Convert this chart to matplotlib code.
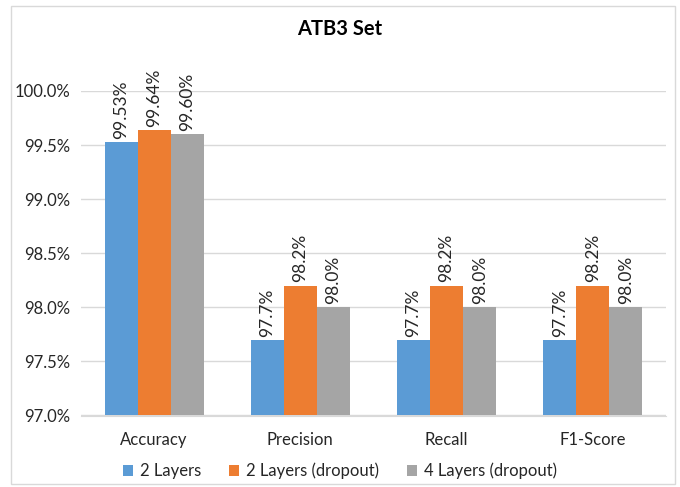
import numpy as np
import matplotlib.pyplot as plt
from matplotlib.patches import Rectangle
from matplotlib.ticker import FuncFormatter

plt.rcParams['font.family'] = ['Lato', 'DejaVu Sans']

# data
metrics = ['Accuracy', 'Precision', 'Recall', 'F1-Score']
series_names = ['2 Layers', '2 Layers (dropout)', '4 Layers (dropout)']
two_layers = [99.53, 97.7, 97.7, 97.7]
two_layers_dropout = [99.64, 98.2, 98.2, 98.2]
four_layers_dropout = [99.60, 98.0, 98.0, 98.0]
two_layers_lbl = ['99.53%', '97.7%', '97.7%', '97.7%']
two_layers_dropout_lbl = ['99.64%', '98.2%', '98.2%', '98.2%']
four_layers_dropout_lbl = ['99.60%', '98.0%', '98.0%', '98.0%']

colors = ['#5B9BD5', '#ED7D31', '#A5A5A5']
text_col = '#262626'

fig = plt.figure(figsize=(6.8, 4.87), dpi=100)
ax = fig.add_axes([81 / 680, 1 - 415.5 / 487, (666 - 81) / 680, (415.5 - 91) / 487])

# outer chart border
fig.patches.append(Rectangle((11 / 680, 3 / 487), 664 / 680, 478 / 487, transform=fig.transFigure,
                             fill=False, edgecolor='#D9D9D9', linewidth=1))

x = np.arange(len(metrics))
w = 0.226
all_vals = [two_layers, two_layers_dropout, four_layers_dropout]
all_lbls = [two_layers_lbl, two_layers_dropout_lbl, four_layers_dropout_lbl]
for k in range(3):
    pos = x + (k - 1) * w
    ax.bar(pos, np.array(all_vals[k]) - 97.0, width=w, bottom=97.0, color=colors[k],
           label=series_names[k], zorder=3)
    for p, v, s in zip(pos, all_vals[k], all_lbls[k]):
        ax.text(p, v + 0.03, s, rotation=90, ha='center', va='bottom', fontsize=12.5,
                color=text_col, clip_on=False)

ax.set_xlim(-0.5, 3.5)
ax.set_ylim(97.0, 100.0)
ax.set_yticks(np.arange(97.0, 100.01, 0.5))
ax.yaxis.set_major_formatter(FuncFormatter(lambda v, _: '%.1f%%' % v))
ax.set_xticks(x)
ax.set_xticklabels(metrics)
ax.tick_params(axis='both', length=0, labelsize=12, colors=text_col)
ax.tick_params(axis='x', pad=12)
ax.tick_params(axis='y', pad=8)
ax.grid(axis='y', color='#D9D9D9', linewidth=1, zorder=0)
for s in ['top', 'right', 'left']:
    ax.spines[s].set_visible(False)
ax.spines['bottom'].set_color('#D9D9D9')

fig.text(0.5, 1 - 29 / 487, 'ATB3 Set', ha='center', va='center', fontsize=14.5,
         fontweight='bold', color='black')

fig.legend(loc='center', bbox_to_anchor=(0.5, 1 - 471 / 487), ncol=3, frameon=False,
           fontsize=12, handlelength=0.6, handleheight=0.6, columnspacing=1.7,
           handletextpad=0.4, labelcolor=text_col)

fig.savefig('out.png', dpi=100)
